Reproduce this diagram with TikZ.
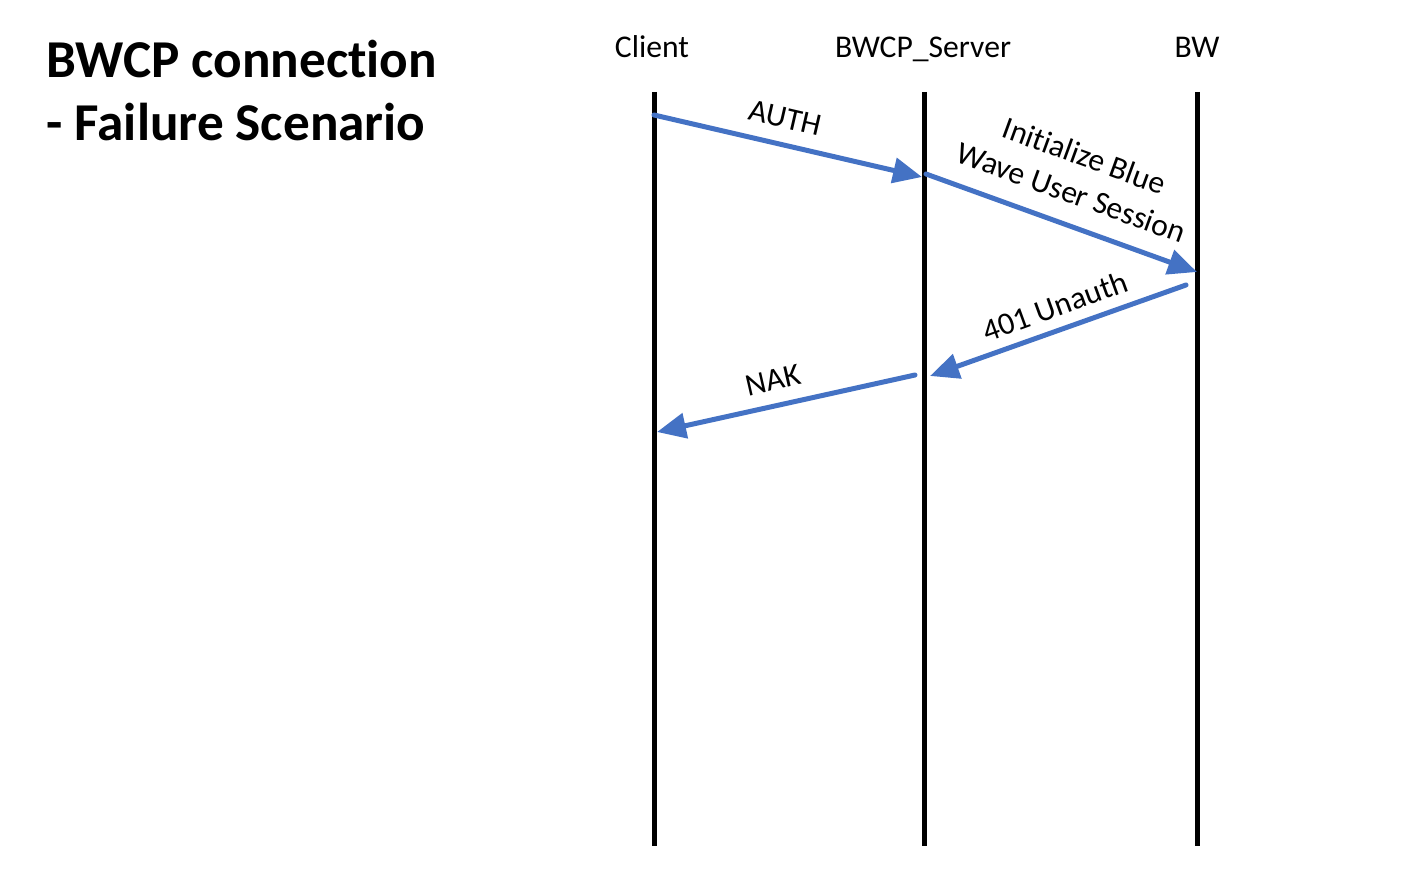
\documentclass[tikz,border=0pt]{standalone}
\usepackage{fontspec}
\setmainfont{Carlito}[Ligatures=NoCommon]
\usetikzlibrary{arrows.meta}
\definecolor{msgblue}{RGB}{68,114,196}
\tikzset{
  lifeline/.style={line width=0.1cm},
  msg/.style={draw=msgblue, line width=0.1cm, line cap=round, -{Triangle[length=0.58cm,width=0.5cm]}},
  head/.style={font=\fontsize{18}{22}\selectfont, inner sep=0, anchor=base},
  lbl/.style={font=\fontsize{18}{22}\selectfont, align=center, inner sep=0},
  heading/.style={font=\bfseries\fontsize{30.3}{37}\selectfont, inner sep=0, anchor=base west},
}
\begin{document}
\begin{tikzpicture}[x=0.02cm, y=-0.02cm]
    \useasboundingbox (0,0) rectangle (1420,882);

    % title in the top left corner
    \node[heading] (title1) at (46,78) {BWCP connection};
    \node[heading] (title2) at (46,140) {- Failure Scenario};

    % the three parties and their lifelines
    \node[head] (client) at (652,58) {Client};
    \node[head] (server) at (923,58) {BWCP\_Server};
    \node[head] (bw) at (1197,58) {BW};
    \foreach \x in {654, 924, 1197}
        \draw[lifeline] (\x,92) -- (\x,846);

    % end points of the messages on the lifelines
    \coordinate (c1) at (654,115);
    \coordinate (s1) at (922,177);
    \coordinate (s2) at (926,174);
    \coordinate (b1) at (1197,272);
    \coordinate (b2) at (1186,285);
    \coordinate (s3) at (930,376);
    \coordinate (s4) at (915,375);
    \coordinate (c2) at (657,432);

    % messages
    \draw[msg] (c1) -- (s1);
    \draw[msg] (s2) -- (b1);
    \draw[msg] (b2) -- (s3);
    \draw[msg] (s4) -- (c2);

    % message labels
    \node[lbl, rotate=-13] (auth) at (785,118) {AUTH};
    \node[lbl, rotate=-20] (init) at (1078,174) {Initialize Blue\\Wave User Session};
    \node[lbl, rotate=20] (unauth) at (1055,306) {401 Unauth};
    \node[lbl, rotate=13] (nak) at (773,380) {NAK};

\end{tikzpicture}
\end{document}
